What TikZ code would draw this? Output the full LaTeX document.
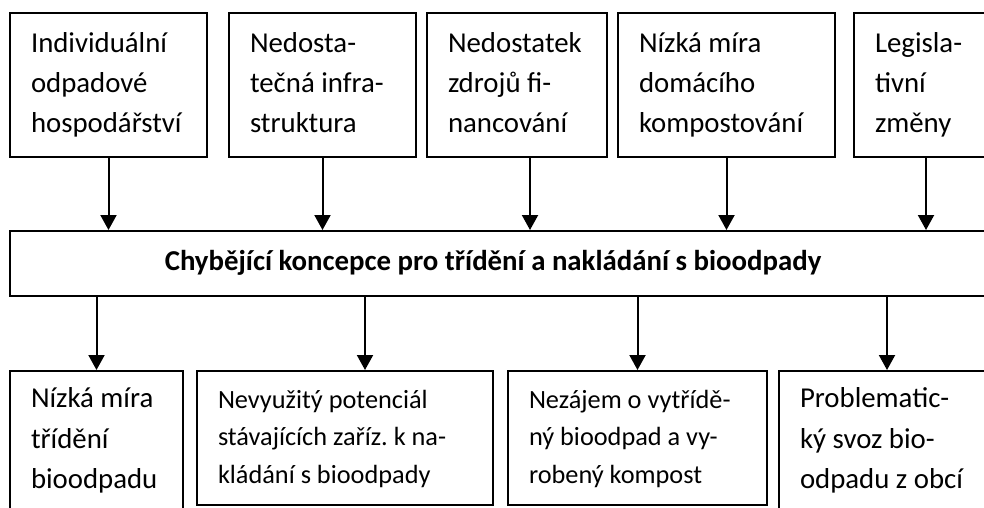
\documentclass[tikz,border=0pt]{standalone}
\usepackage{fontspec}
\setmainfont{Carlito}
\usetikzlibrary{arrows.meta,positioning,calc}
\tikzset{
  box/.style={draw, line width=2pt, anchor=north west, inner xsep=21pt, inner ysep=0pt,
              align=flush left, execute at begin node=\strut, execute at end node=\strut},
  cause/.style={box, minimum height=144pt, font=\fontsize{28.8}{40}\selectfont},
  effect/.style={box, minimum height=138pt, font=\fontsize{28.8}{40.5}\selectfont},
  effectsm/.style={box, minimum height=134pt, font=\fontsize{26.3}{37.5}\selectfont},
  core/.style={draw, line width=2pt, anchor=north west, inner sep=0pt,
               minimum width=1000pt, minimum height=65pt},
  coretxt/.style={font=\fontsize{28.8}{36}\selectfont\bfseries},
  arr/.style={-{Triangle[length=15pt,width=16pt]}, line width=2pt},
}
\begin{document}
\begin{tikzpicture}[x=1pt, y=-1pt]
    \useasboundingbox (0,0) rectangle (984,508);
    % causes
    \node[cause, text width=155pt] (t1) at (9,12) {Individuální\\odpadové\\hospodářství};
    \node[cause, text width=145pt] (t2) at (228,12) {Nedosta-\\tečná infra-\\struktura};
    \node[cause, text width=138pt] (t3) at (426,12) {Nedostatek\\zdrojů fi-\\nancování};
    \node[cause, text width=175pt] (t4) at (617,12) {Nízká míra\\domácího\\kompostování};
    \node[cause, text width=102pt] (t5) at (853,12) {Legisla-\\tivní\\změny};
    % core problem
    \node[core] (mid) at (9,230) {};
    \node[coretxt] (midtxt) at (493,262.5) {Chybějící koncepce pro třídění a nakládání s bioodpady};
    % effects
    \node[effect, text width=131pt] (b1) at (9,370) {Nízká míra\\třídění\\bioodpadu};
    \node[effectsm, text width=254pt] (b2) at (196,370) {Nevyužitý potenciál\\stávajících zaříz.\ k na-\\kládání s bioodpady};
    \node[effectsm, text width=217pt] (b3) at (507,370) {Nezájem o vytřídě-\\ný bioodpad a vy-\\robený kompost};
    \node[effect, text width=174pt] (b4) at (778,370) {Problematic-\\ký svoz bio-\\odpadu z obcí};
    % arrows
    \draw[arr] (t1.south) -- (t1.south |- mid.north);
    \draw[arr] (t2.south) -- (t2.south |- mid.north);
    \draw[arr] ([xshift=13pt]t3.south) -- ([xshift=13pt]t3.south |- mid.north);
    \draw[arr] (t4.south) -- (t4.south |- mid.north);
    \draw[arr] (t5.south) -- (t5.south |- mid.north);
    \draw[arr] (b1.north |- mid.south) -- (b1.north);
    \draw[arr] ([xshift=20pt]b2.north |- mid.south) -- ([xshift=20pt]b2.north);
    \draw[arr] (b3.north |- mid.south) -- (b3.north);
    \draw[arr] (b4.north |- mid.south) -- (b4.north);
\end{tikzpicture}
\end{document}
